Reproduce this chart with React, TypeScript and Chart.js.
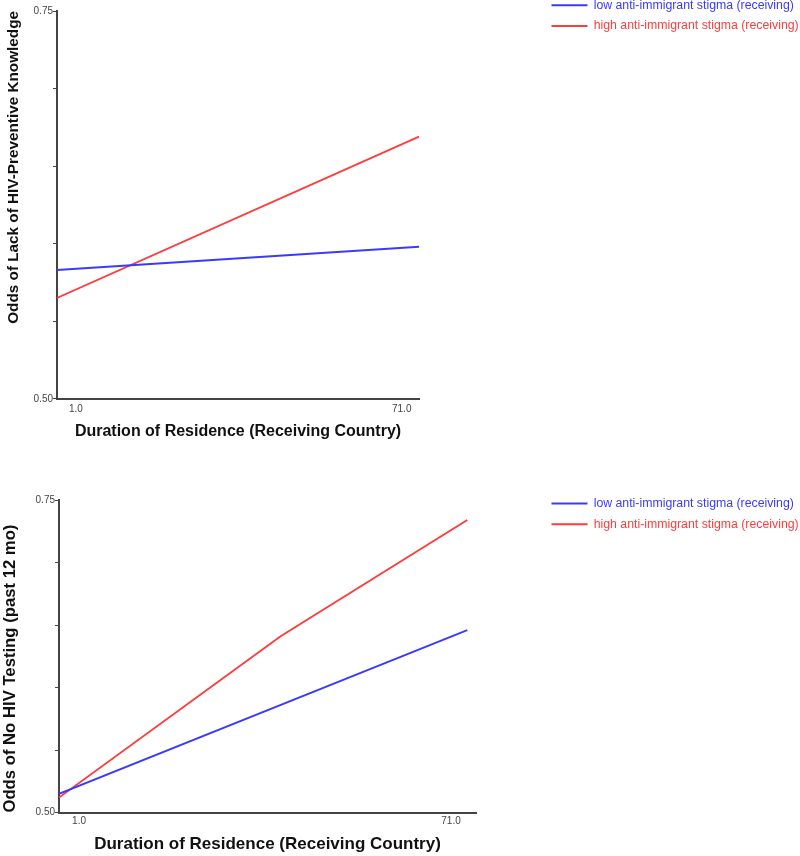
import React, { useEffect, useRef } from "react";
import { Chart, registerables } from "chart.js";

Chart.register(...registerables);

const FONT = "'Liberation Sans', Arial, sans-serif";

// ---- data ----
const SERIES_NAMES = ["low anti-immigrant stigma (receiving)", "high anti-immigrant stigma (receiving)"];
const SERIES_COLORS = ["rgb(58,58,255)", "rgb(255,60,60)"];

const Y_TICK_LABELS = ["0.50", "0.75"];
const X_TICK_VALUES = [1, 71];
const X_TICK_LABELS = ["1.0", "71.0"];

// Panel 1: Lack of HIV-preventive knowledge
const TOP_Y_TITLE = "Odds of Lack of HIV-Preventive Knowledge";
const TOP_X_TITLE = "Duration of Residence (Receiving Country)";
const TOP_LOW_X = [1, 71];
const TOP_LOW_Y = [0.583, 0.598];
const TOP_HIGH_X = [1, 71];
const TOP_HIGH_Y = [0.565, 0.669];

// Panel 2: No HIV testing
const BOT_Y_TITLE = "Odds of No HIV Testing (past 12 mo)";
const BOT_X_TITLE = "Duration of Residence (Receiving Country)";
const BOT_LOW_X = [1, 71];
const BOT_LOW_Y = [0.515, 0.646];
const BOT_HIGH_X = [1, 39, 71];
const BOT_HIGH_Y = [0.512, 0.641, 0.734];

const pts = (xs: number[], ys: number[]) => xs.map((x, i) => ({ x, y: ys[i] }));

type Panel = {
  height: number;
  low: { x: number; y: number }[];
  high: { x: number; y: number }[];
  yTitle: string;
  xTitle: string;
  yTitleSize: number;
  yTitleAlign: "start" | "center" | "end";
  yTitlePadTop: number;
  xTitleSize: number;
  xTitlePadTop: number;
  xTickPad: number;
  xMax: number;
  labelMin: number;
  labelMax: number;
  axisWidth: number;
  padding: { top: number; right: number; bottom: number; left: number };
  legendLeft: number;
  legendTop: number;
};

function buildConfig(p: Panel): any {
  const axisColor = "#444";
  return {
    type: "line",
    data: {
      datasets: [
        {
          label: SERIES_NAMES[0],
          data: p.low,
          borderColor: SERIES_COLORS[0],
          backgroundColor: SERIES_COLORS[0],
          borderWidth: 1.9,
          pointRadius: 0,
          tension: 0,
          xAxisID: "x",
          yAxisID: "y",
        },
        {
          label: SERIES_NAMES[1],
          data: p.high,
          borderColor: SERIES_COLORS[1],
          backgroundColor: SERIES_COLORS[1],
          borderWidth: 1.9,
          pointRadius: 0,
          tension: 0,
          xAxisID: "x",
          yAxisID: "y",
        },
      ],
    },
    options: {
      animation: false,
      responsive: true,
      maintainAspectRatio: false,
      layout: { padding: p.padding },
      plugins: {
        tooltip: { enabled: false },
        legend: {
          display: true,
          position: "right",
          align: "start",
          labels: {
            usePointStyle: true,
            pointStyle: "line",
            pointStyleWidth: 36,
            padding: 8.5,
            font: { family: FONT, size: 12.3 },
            generateLabels: (chart: any) => {
              const items = (Chart.defaults as any).plugins.legend.labels.generateLabels(chart);
              return items.map((it: any, i: number) => ({
                ...it,
                fontColor: SERIES_COLORS[i],
                strokeStyle: SERIES_COLORS[i],
                lineWidth: 2,
              }));
            },
          },
        },
      },
      scales: {
        x: {
          type: "linear",
          position: "bottom",
          min: 1,
          max: p.xMax,
          ticks: { display: false },
          grid: { display: false, drawTicks: false },
          border: { display: true, color: axisColor, width: 2 },
        },
        xl: {
          type: "linear",
          position: "bottom",
          display: true,
          min: p.labelMin,
          max: p.labelMax,
          afterBuildTicks: (s: any) => {
            s.ticks = X_TICK_VALUES.map((v) => ({ value: v }));
          },
          ticks: {
            autoSkip: false,
            maxRotation: 0,
            padding: p.xTickPad,
            color: "#444",
            font: { family: FONT, size: 10 },
            callback: (_v: any, i: number) => X_TICK_LABELS[i],
          },
          grid: { display: false, drawTicks: false },
          border: { display: false },
          title: {
            display: true,
            text: p.xTitle,
            color: "#111",
            font: { family: FONT, size: p.xTitleSize, weight: "bold" },
            padding: { top: p.xTitlePadTop, bottom: 0 },
          },
        },
        y: {
          type: "linear",
          position: "left",
          min: 0.5,
          max: 0.75,
          afterFit: (s: any) => {
            s.width = p.axisWidth;
          },
          ticks: {
            stepSize: 0.05,
            padding: 0,
            color: "#444",
            font: { family: FONT, size: 10 },
            callback: (_v: any, i: number, ticks: any[]) =>
              i === 0 ? Y_TICK_LABELS[0] : i === ticks.length - 1 ? Y_TICK_LABELS[1] : "",
          },
          grid: {
            display: true,
            drawOnChartArea: false,
            drawTicks: true,
            tickLength: 4,
            color: axisColor,
            lineWidth: 1,
          },
          border: { display: true, color: axisColor, width: 2 },
          title: {
            display: true,
            text: p.yTitle,
            align: p.yTitleAlign,
            color: "#111",
            font: { family: FONT, size: p.yTitleSize, weight: "bold" },
            padding: { top: p.yTitlePadTop, bottom: 0 },
          },
        },
      },
    },
    plugins: [
      {
        id: "placeLegend",
        beforeDraw(chart: any) {
          const lg = chart.legend;
          if (lg) {
            lg.left = p.legendLeft;
            lg.right = chart.width;
            lg.width = chart.width - p.legendLeft;
            lg.top = p.legendTop;
            lg.bottom = p.legendTop + 100;
            lg.height = 100;
          }
        },
      },
    ],
  };
}

function ChartPanel({ panel }: { panel: Panel }) {
  const ref = useRef<HTMLCanvasElement | null>(null);
  useEffect(() => {
    if (!ref.current) return;
    const chart = new Chart(ref.current, buildConfig(panel));
    return () => chart.destroy();
  }, [panel]);
  return (
    <div style={{ position: "relative", width: 800, height: panel.height }}>
      <canvas ref={ref} />
    </div>
  );
}

const TOP_PANEL: Panel = {
  height: 460,
  low: pts(TOP_LOW_X, TOP_LOW_Y),
  high: pts(TOP_HIGH_X, TOP_HIGH_Y),
  yTitle: TOP_Y_TITLE,
  xTitle: TOP_X_TITLE,
  yTitleSize: 15.3,
  yTitleAlign: "end",
  yTitlePadTop: 4.5,
  xTitleSize: 16,
  xTitlePadTop: 3,
  xTickPad: 4,
  xMax: 71,
  labelMin: -3.08,
  labelMax: 74.72,
  axisWidth: 57,
  padding: { top: 11, right: 241.3, bottom: 19, left: 0 },
  legendLeft: 543,
  legendTop: -9.5,
};

const BOT_PANEL: Panel = {
  height: 396,
  low: pts(BOT_LOW_X, BOT_LOW_Y),
  high: pts(BOT_HIGH_X, BOT_HIGH_Y),
  yTitle: BOT_Y_TITLE,
  xTitle: BOT_X_TITLE,
  yTitleSize: 16.7,
  yTitleAlign: "start",
  yTitlePadTop: 0,
  xTitleSize: 17,
  xTitlePadTop: 4,
  xTickPad: 3,
  xMax: 72.5,
  labelMin: -2.77,
  labelMax: 75.71,
  axisWidth: 59,
  padding: { top: 40, right: 165.3, bottom: 1, left: 0 },
  legendLeft: 543,
  legendTop: 28.8,
};

export default function App() {
  useEffect(() => {
    document.body.style.margin = "0";
    document.body.style.background = "#fff";
  }, []);
  return (
    <div style={{ width: 800, background: "#fff" }}>
      <ChartPanel panel={TOP_PANEL} />
      <ChartPanel panel={BOT_PANEL} />
    </div>
  );
}
